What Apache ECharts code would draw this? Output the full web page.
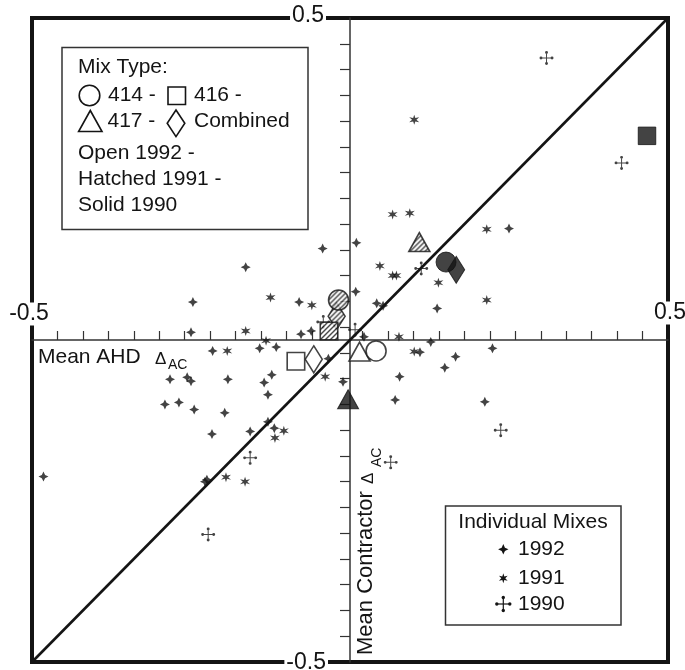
<!DOCTYPE html>
<html>
<head>
<meta charset="utf-8">
<script src="https://cdn.jsdelivr.net/npm/echarts@6/dist/echarts.min.js"></script>
<style>
  html, body { margin: 0; padding: 0; background: #fff; }
  #chart { width: 685px; height: 670px; }
</style>
</head>
<body>
<div id="chart"></div>
<script>
const FONT = '"Liberation Sans", Arial, Helvetica, sans-serif';
const INK = '#141414';

// Axis extent, end labels and tick spacing (both axes share them)
const axisRange = [-0.5, 0.5];
const axisEndLabels = ['-0.5', '0.5'];
const tickStep = 0.04;

// Individual mixes: [Mean AHD ΔAC, Mean Contractor ΔAC]
const mixes1992 = [
  [-0.482, -0.212], [-0.043, 0.142], [-0.164, 0.113], [-0.247, 0.059],
  [-0.080, 0.059], [-0.250, 0.012], [-0.077, 0.009], [-0.061, 0.014],
  [-0.142, -0.013], [-0.116, -0.011], [-0.216, -0.017], [-0.283, -0.061],
  [-0.256, -0.058], [-0.250, -0.064], [-0.192, -0.061], [-0.123, -0.054],
  [-0.135, -0.066], [-0.129, -0.085], [-0.291, -0.100], [-0.269, -0.097],
  [-0.245, -0.108], [-0.197, -0.113], [-0.217, -0.146], [-0.157, -0.142],
  [-0.129, -0.127], [-0.119, -0.137], [-0.228, -0.220], [-0.225, -0.217],
  [-0.034, -0.029], [-0.011, -0.065], [0.010, 0.151], [0.009, 0.075],
  [0.042, 0.057], [0.052, 0.053], [0.137, 0.049], [0.250, 0.173],
  [0.022, 0.005], [0.127, -0.003], [0.110, -0.019], [0.224, -0.013],
  [0.166, -0.026], [0.149, -0.043], [0.078, -0.057], [0.071, -0.093],
  [0.212, -0.096]
];
const mixes1991 = [
  [0.101, 0.342], [0.067, 0.195], [0.094, 0.197], [0.215, 0.172],
  [0.047, 0.115], [0.067, 0.100], [0.073, 0.100], [0.139, 0.089],
  [0.215, 0.062], [0.077, 0.005], [0.101, -0.018], [-0.125, 0.066],
  [-0.060, 0.054], [-0.164, 0.014], [-0.132, -0.001], [-0.193, -0.017],
  [-0.039, -0.057], [-0.104, -0.141], [-0.118, -0.152], [-0.195, -0.213],
  [-0.165, -0.220]
];
const mixes1990 = [
  [0.309, 0.438], [0.427, 0.275], [0.112, 0.111], [0.237, -0.140],
  [0.064, -0.190], [-0.157, -0.183], [-0.223, -0.302], [-0.042, 0.028],
  [0.008, 0.016]
];

// Means by mix type, in the order 1992 (open), 1991 (hatched), 1990 (solid)
const mean414 = [[0.041, -0.017], [-0.018, 0.062], [0.151, 0.121]];
const mean416 = [[-0.085, -0.033], [-0.033, 0.014], [0.467, 0.317]];
const mean417 = [[0.015, -0.018], [0.109, 0.152], [-0.003, -0.092]];
const meanCombined = [[-0.057, -0.030], [-0.021, 0.037], [0.167, 0.109]];

// Line of equality
const equalityLine = [[-0.5, -0.5], [0.5, 0.5]];

// ---------- marker shapes ----------
function starPoints(cx, cy, ro, ri) {
  const pts = [];
  for (let i = 0; i < 8; i++) {
    const r = i % 2 ? ri : ro;
    const a = -Math.PI / 2 + i * Math.PI / 4;
    pts.push([cx + r * Math.cos(a), cy + r * Math.sin(a)]);
  }
  return pts;
}
function sixStarPoints(cx, cy, ro, ri) {
  const pts = [];
  for (let i = 0; i < 12; i++) {
    const r = i % 2 ? ri : ro;
    const a = -Math.PI / 2 + i * Math.PI / 6;
    pts.push([cx + r * Math.cos(a), cy + r * Math.sin(a)]);
  }
  return pts;
}
function toPath(pts) {
  return 'path://' + pts.map((p, i) =>
    (i ? 'L' : 'M') + p[0].toFixed(2) + ',' + p[1].toFixed(2)).join(' ') + ' Z';
}
const starPath = toPath(starPoints(0, 0, 10, 4.6));
const asteriskPath = toPath(sixStarPoints(0, 0, 10, 3.8));
function dot(cx, cy, r) {
  return `M${cx - r},${cy} A${r},${r} 0 1,1 ${cx + r},${cy} A${r},${r} 0 1,1 ${cx - r},${cy} Z `;
}
const crossPath = 'path://M-0.8,-7.2 L0.8,-7.2 L0.8,-0.8 L7.2,-0.8 L7.2,0.8 L0.8,0.8 L0.8,7.2 ' +
  'L-0.8,7.2 L-0.8,0.8 L-7.2,0.8 L-7.2,-0.8 L-0.8,-0.8 Z ' +
  dot(0, -9, 2.4) + dot(0, 9, 2.4) + dot(-9, 0, 2.4) + dot(9, 0, 2.4);

// diagonal hatch tile
function makeHatch() {
  const c = document.createElement('canvas');
  c.width = 5; c.height = 5;
  const g = c.getContext('2d');
  g.fillStyle = '#fff';
  g.fillRect(0, 0, 5, 5);
  g.strokeStyle = INK;
  g.lineWidth = 1.4;
  g.beginPath();
  g.moveTo(0, 5); g.lineTo(5, 0);
  g.moveTo(-1, 1); g.lineTo(1, -1);
  g.moveTo(4, 6); g.lineTo(6, 4);
  g.stroke();
  return c;
}
const hatchTile = makeHatch();

// symbols are built at unit size 2 and scaled, so the pattern is scaled back
function yearStyle(i, size) {
  const w = Array.isArray(size) ? size[0] : size;
  const h = Array.isArray(size) ? size[1] : size;
  if (i === 0) return { color: '#fff', borderColor: INK, borderWidth: 1.6 };
  if (i === 1) return {
    color: { image: hatchTile, repeat: 'repeat', scaleX: 2 / w, scaleY: 2 / h },
    borderColor: INK, borderWidth: 1.6
  };
  return { color: INK, borderColor: INK, borderWidth: 1 };
}

function meanSeries(name, points, symbol, size) {
  return {
    name, type: 'scatter', symbol, symbolSize: size, z: 5,
    data: points.map((p, i) => ({ value: p, itemStyle: yearStyle(i, size) }))
  };
}

const ticks = [];
for (let v = axisRange[0] + tickStep; v < axisRange[1] - 1e-9; v += tickStep) {
  ticks.push(+v.toFixed(2));
}

// ---------- legend / title graphics ----------
function txt(x, y, text, size, extra, align) {
  return Object.assign({
    type: 'text', x, y,
    style: { text, font: `${size}px ${FONT}`, fill: INK, textAlign: align || 'left', textVerticalAlign: 'middle' }
  }, extra || {});
}
const strokeStyle = { fill: '#fff', stroke: INK, lineWidth: 1.6 };

const legendMixType = [
  { type: 'rect', shape: { x: 62, y: 47.5, width: 246, height: 182 },
    style: { fill: '#fff', stroke: '#333', lineWidth: 1.5 } },
  txt(78, 67, 'Mix Type:', 21),
  { type: 'circle', shape: { cx: 89.5, cy: 95.5, r: 10.3 }, style: strokeStyle },
  txt(108, 95.5, '414 -', 21),
  { type: 'rect', shape: { x: 168, y: 87, width: 17.5, height: 17.5 }, style: strokeStyle },
  txt(194, 95.5, '416 -', 21),
  { type: 'polygon', shape: { points: [[90.3, 110.5], [102, 131.5], [78.6, 131.5]] }, style: strokeStyle },
  txt(107.5, 121, '417 -', 21),
  { type: 'polygon', shape: { points: [[176, 110], [184.8, 123.3], [176, 136.6], [167.2, 123.3]] }, style: strokeStyle },
  txt(194, 121, 'Combined', 21),
  txt(78, 153, 'Open 1992 -', 21),
  txt(78, 179, 'Hatched 1991 -', 21),
  txt(78, 205, 'Solid 1990', 21)
];

function crossIcon(cx, cy) {
  const els = [
    { type: 'line', shape: { x1: cx - 6, y1: cy, x2: cx + 6, y2: cy }, style: { stroke: INK, lineWidth: 1.2 } },
    { type: 'line', shape: { x1: cx, y1: cy - 6, x2: cx, y2: cy + 6 }, style: { stroke: INK, lineWidth: 1.2 } }
  ];
  [[0, -6.5], [0, 6.5], [-6.5, 0], [6.5, 0]].forEach(d => {
    els.push({ type: 'circle', shape: { cx: cx + d[0], cy: cy + d[1], r: 1.7 }, style: { fill: INK } });
  });
  return els;
}

const legendIndividual = [
  { type: 'rect', shape: { x: 445.5, y: 506, width: 175.5, height: 119 },
    style: { fill: '#fff', stroke: '#333', lineWidth: 1.5 } },
  txt(533, 522.5, 'Individual Mixes', 21, null, 'center'),
  { type: 'polygon', shape: { points: starPoints(503.3, 549.3, 5.2, 2.3) }, style: { fill: INK } },
  txt(518, 549.5, '1992', 21),
  { type: 'polygon', shape: { points: sixStarPoints(503.3, 578.3, 5, 2) }, style: { fill: INK } },
  txt(518, 578.5, '1991', 21),
  ...crossIcon(503.3, 604),
  txt(518, 604.5, '1990', 21)
];

const axisTitles = [
  txt(38, 357, 'Mean AHD', 21),
  txt(155, 359, 'Δ', 17),
  txt(168, 365, 'AC', 14),
  txt(366, 655, 'Mean Contractor', 22, { rotation: Math.PI / 2 }),
  txt(368, 484, 'Δ', 17, { rotation: Math.PI / 2 }),
  txt(377, 467, 'AC', 14, { rotation: Math.PI / 2 })
];

// end-of-axis labels sitting on the frame, knocked out of the border
function endLabel(x, y, text, align) {
  return {
    type: 'text', x, y, z: 10,
    style: {
      text, font: `23px ${FONT}`, fill: INK, textAlign: align, textVerticalAlign: 'middle',
      backgroundColor: '#fff', padding: [0, 2]
    }
  };
}
const endLabels = [
  endLabel(29, 314, axisEndLabels[0], 'center'),
  endLabel(670, 313, axisEndLabels[1], 'center'),
  endLabel(326, 16, axisEndLabels[1], 'right'),
  endLabel(328, 663, axisEndLabels[0], 'right')
];

const chart = echarts.init(document.getElementById('chart'), null, { renderer: 'canvas' });
chart.setOption({
  backgroundColor: '#fff',
  animation: false,
  grid: {
    left: 32, right: 17, top: 18, bottom: 8,
    containLabel: false, outerBoundsMode: 'none',
    show: true, borderColor: INK, borderWidth: 4, backgroundColor: '#fff'
  },
  xAxis: {
    type: 'value', min: axisRange[0], max: axisRange[1],
    position: 'bottom',
    axisLine: { onZero: true, lineStyle: { color: '#333', width: 1.5 } },
    axisTick: { inside: true, length: 9, customValues: ticks, lineStyle: { color: '#333', width: 1.2 } },
    axisLabel: { show: false },
    splitLine: { show: false }
  },
  yAxis: {
    type: 'value', min: axisRange[0], max: axisRange[1],
    position: 'left',
    axisLine: { onZero: true, lineStyle: { color: '#333', width: 1.5 } },
    axisTick: { inside: false, length: 10, customValues: ticks, lineStyle: { color: '#333', width: 1.2 } },
    axisLabel: { show: false },
    splitLine: { show: false }
  },
  series: [
    {
      type: 'line', data: equalityLine, symbol: 'none', z: 2,
      lineStyle: { color: INK, width: 2.6 }, silent: true
    },
    { name: '1992', type: 'scatter', symbol: starPath, symbolSize: 10, z: 3,
      itemStyle: { color: INK }, data: mixes1992 },
    { name: '1991', type: 'scatter', symbol: asteriskPath, symbolSize: 10, z: 3,
      itemStyle: { color: INK }, data: mixes1991 },
    { name: '1990', type: 'scatter', symbol: crossPath, symbolSize: 14, z: 3,
      itemStyle: { color: INK }, data: mixes1990 },
    meanSeries('Combined', meanCombined, 'diamond', [17, 27]),
    meanSeries('416', mean416, 'rect', 17.5),
    meanSeries('417', mean417, 'triangle', [21, 19]),
    meanSeries('414', mean414, 'circle', 20)
  ],
  graphic: { elements: [...legendMixType, ...legendIndividual, ...axisTitles, ...endLabels] }
});
</script>
</body>
</html>
